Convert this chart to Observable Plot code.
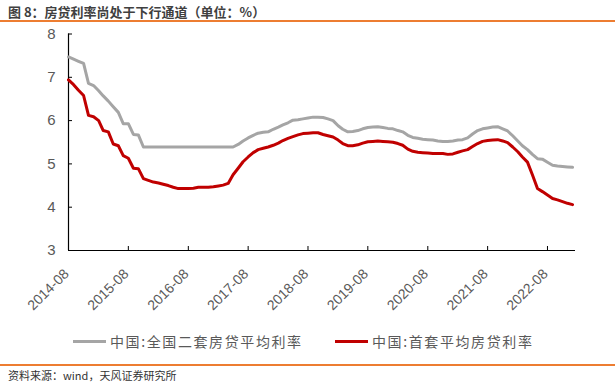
<!DOCTYPE html>
<html><head><meta charset="utf-8">
<script src="https://cdn.jsdelivr.net/npm/d3@7"></script>
<script src="https://cdn.jsdelivr.net/npm/@observablehq/plot@0.6"></script>
<style>
body{margin:0;background:#fff;}
#wrap{position:relative;width:615px;height:384px;overflow:hidden;font-family:"Noto Sans CJK SC","Liberation Sans",sans-serif;}
#title{position:absolute;left:8px;top:2px;font-size:13px;font-weight:bold;color:#404040;white-space:nowrap;}
.rule{position:absolute;left:0;width:615px;height:2px;background:#ED7D31;}
#chart{position:absolute;left:0;top:22px;}
#legend{position:absolute;top:331px;left:0;width:615px;height:20px;font-size:14px;color:#595959;letter-spacing:1.6px;}
.item{position:absolute;top:0;display:flex;align-items:center;white-space:nowrap;}
.sw{width:33px;height:3px;margin-right:4px;}
#source{position:absolute;left:8px;top:367px;font-size:11px;color:#333;white-space:nowrap;}
</style></head><body>
<div id="wrap">
  <div id="title">图 8：房贷利率尚处于下行通道（单位：%）</div>
  <div class="rule" style="top:20px"></div>
  <div id="chart"></div>
  <div id="legend"></div>
  <div class="rule" style="top:364px"></div>
  <div id="source">资料来源：wind，天风证券研究所</div>
</div>
<script>
const startMonth = "2014-08";
const seriesNames = ["中国:全国二套房贷平均利率", "中国:首套平均房贷利率"];
const seriesColors = ["#A5A5A5", "#C00000"];
const secondHome = [7.47,7.42,7.37,7.32,6.86,6.81,6.69,6.57,6.45,6.32,6.19,5.93,5.93,5.68,5.67,5.39,
  5.39,5.39,5.39,5.39,5.39,5.39,5.39,5.39,5.39,5.39,5.39,5.39,5.39,5.39,5.39,5.39,5.39,5.39,
  5.45,5.53,5.60,5.66,5.71,5.73,5.74,5.80,5.85,5.90,5.95,6.01,6.02,6.04,6.06,6.08,6.08,6.07,6.04,6.00,
  5.88,5.80,5.74,5.75,5.77,5.81,5.84,5.85,5.86,5.84,5.82,5.81,5.77,5.74,5.66,5.61,5.59,5.57,5.56,5.55,
  5.53,5.52,5.52,5.53,5.55,5.56,5.60,5.69,5.77,5.81,5.83,5.85,5.86,5.81,5.76,5.65,5.53,5.42,5.33,5.22,
  5.12,5.11,5.04,4.97,4.95,4.94,4.93,4.92];
const firstHome = [6.94,6.83,6.70,6.58,6.12,6.09,6.00,5.77,5.74,5.46,5.42,5.19,5.13,4.90,4.89,4.66,
  4.62,4.58,4.56,4.53,4.50,4.46,4.43,4.43,4.43,4.44,4.46,4.46,4.46,4.47,4.49,4.51,4.55,4.75,
  4.90,5.05,5.16,5.26,5.33,5.36,5.39,5.43,5.48,5.54,5.59,5.63,5.67,5.70,5.71,5.72,5.72,5.68,5.65,5.62,
  5.55,5.47,5.42,5.42,5.44,5.48,5.51,5.52,5.53,5.52,5.51,5.50,5.47,5.43,5.34,5.29,5.27,5.26,5.25,5.24,
  5.24,5.24,5.22,5.23,5.27,5.30,5.33,5.40,5.47,5.52,5.54,5.55,5.56,5.53,5.49,5.39,5.28,5.16,5.04,4.75,
  4.43,4.36,4.28,4.20,4.17,4.13,4.09,4.06];
const xTickLabels = ["2014-08","2015-08","2016-08","2017-08","2018-08","2019-08","2020-08","2021-08","2022-08"];
const yTicks = [3, 4, 5, 6, 7, 8];

const parse = d3.utcParse("%Y-%m");
const t0 = parse(startMonth);
const xTicks = xTickLabels.map(parse);
const rows = [];
[secondHome, firstHome].forEach((arr, s) => arr.forEach((v, i) =>
  rows.push({date: d3.utcMonth.offset(t0, i), value: v, series: seriesNames[s]})));

const W = 615, H = 300, mT = 11.5, mB = 72, mL = 68, mR = 40;
const xEnd = d3.utcDay.offset(d3.utcMonth.offset(t0, secondHome.length - 1), 18);

const chart = Plot.plot({
  width: W, height: H, marginTop: mT, marginBottom: mB, marginLeft: mL, marginRight: mR,
  style: {fontFamily: "'Liberation Sans', Arial, sans-serif", fontSize: "13px", color: "#595959", background: "transparent"},
  x: {type: "utc", domain: [t0, xEnd], label: null},
  y: {domain: [3, 8], label: null},
  color: {domain: seriesNames, range: seriesColors},
  marks: [
    Plot.axisY(yTicks, {tickSize: 0, tickPadding: 13, fontSize: 15, label: null}),
    Plot.axisX(xTicks, {tickSize: 0, tickRotate: -45, tickPadding: 11, dx: -2, dy: 10, fontSize: 14, label: null, tickFormat: d3.utcFormat("%Y-%m")}),
    Plot.tickY(yTicks, {y: d => d, insetRight: W - mL - mR - 4, stroke: "#000"}),
    Plot.tickX(xTicks, {x: d => d, insetTop: H - mT - mB - 4, stroke: "#000"}),
    Plot.ruleX([t0], {stroke: "#000", strokeWidth: 1.2}),
    Plot.ruleY([3], {stroke: "#000", strokeWidth: 1.2}),
    Plot.line(rows, {x: "date", y: "value", z: "series", stroke: "series", strokeWidth: 3})
  ]
});
document.getElementById("chart").appendChild(chart);

const legend = document.getElementById("legend");
const lefts = [73, 335];
seriesNames.forEach((n, i) => {
  const it = document.createElement("div");
  it.className = "item";
  it.style.left = lefts[i] + "px";
  it.innerHTML = `<span class="sw" style="background:${seriesColors[i]}"></span><span>${n}</span>`;
  legend.appendChild(it);
});
</script>
</body></html>
